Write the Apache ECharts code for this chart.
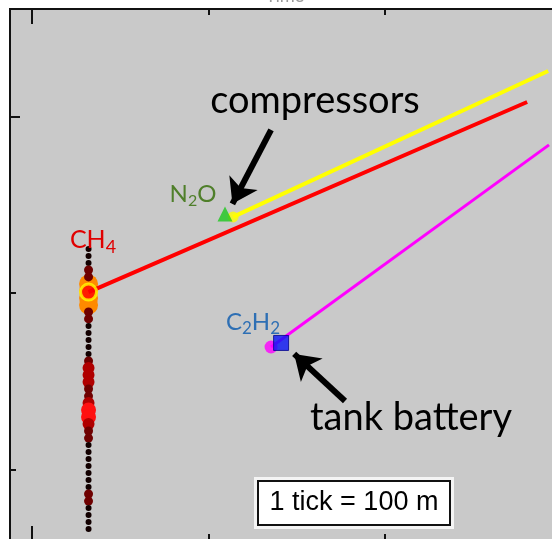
<!DOCTYPE html>
<html>
<head>
<meta charset="utf-8">
<script src="https://cdn.jsdelivr.net/npm/echarts@6/dist/echarts.min.js"></script>
<style>html,body{margin:0;padding:0;background:#fff;}#c{width:552px;height:539px;}</style>
</head>
<body>
<div id="c"></div>
<script>
// ---- data (metres) ----
const ch4X = 32;
const ch4Y = [24.9, 21.0, 17.0, 13.0, 9.1, 5.1, 1.1, -2.8, -6.8, -10.8, -14.7, -18.7, -22.7, -26.6, -30.6, -34.6, -38.5, -42.5, -46.5, -50.4, -54.4, -58.4, -62.3, -66.3, -70.3, -74.2, -78.2, -82.2, -86.1, -90.1, -94.1, -98.0, -102.0, -106.0, -109.9, -113.9, -117.9, -121.8, -125.8, -129.8, -133.7];
const ch4Level = [0,0,0,1,1,4,4,4,4,1,1,0,0,0,0,0,1,2,2,2,1,1,2,3,3,2,1,1,0,0,0,0,0,0,0,1,1,0,0,0,0];
const ch4Source = [32, 0.5];
const ch4Plume = [[32, 0.5], [280.5, 108.2]];
const n2oSource = [109.3, 44.8];
const n2oPlume = [[113.9, 43.1], [292.4, 125.8]];
const c2h2Source = [141.1, -28.3];
const c2h2Plume = [[135.4, -30.6], [292.9, 83.9]];
const arrowCompressors = [[135.4, 92.4], [113.5, 50.5]];
const arrowTank = [[177.3, -61.2], [148.5, -34.5]];
const xTicks = [100, 200, 300];
const xMajorTicks = [0];
const yTicks = [0, -100];
const yMajorTicks = [100];

// ---- styles ----
const levelColor = ['#120000', '#6e0000', '#b00000', '#ff1010', '#ff8a00'];
const levelSize = [6, 9, 12, 15, 19];

const ch4Big = [], ch4Small = [];
ch4Y.forEach((y, i) => {
  const lv = ch4Level[i];
  const item = {value: [ch4X, y], symbolSize: levelSize[lv], itemStyle: {color: levelColor[lv]}};
  (lv === 4 ? ch4Big : ch4Small).push(item);
});

const XMIN = -12.5, XMAX = 322, YMIN = -140.5, YMAX = 160.9, PX = 1.765;
const hidden = {show: false};
function xAx(pos, ticks, len) {
  return {type: 'value', position: pos, min: XMIN, max: XMAX, axisLine: {show: false, onZero: false},
    axisTick: {show: true, inside: true, length: len, customValues: ticks, lineStyle: {color: '#111', width: 2}},
    axisLabel: hidden, splitLine: hidden};
}
function yAx(ticks, len) {
  return {type: 'value', position: 'left', min: YMIN, max: YMAX, axisLine: {show: false, onZero: false},
    axisTick: {show: true, inside: true, length: len, customValues: ticks, lineStyle: {color: '#111', width: 2}},
    axisLabel: hidden, splitLine: hidden};
}

const chart = echarts.init(document.getElementById('c'), null, {renderer: 'canvas'});
chart.setOption({
  animation: false,
  backgroundColor: '#fff',
  grid: {left: 10, top: 9, width: (XMAX - XMIN) * PX, height: (YMAX - YMIN) * PX, show: true,
    outerBoundsMode: 'none', containLabel: false,
    backgroundColor: '#c9c9c9', borderColor: '#111', borderWidth: 2},
  xAxis: [xAx('bottom', xTicks, 7), xAx('top', xTicks, 6), xAx('bottom', xMajorTicks, 15), xAx('top', xMajorTicks, 15)],
  yAxis: [yAx(yTicks, 6), yAx(yMajorTicks, 10)],
  series: [
    {type: 'scatter', data: ch4Big, symbol: 'circle', itemStyle: {opacity: 1}, z: 2},
    {type: 'scatter', data: ch4Small, symbol: 'circle', itemStyle: {opacity: 1}, z: 3},
    {type: 'line', data: ch4Plume, symbol: 'none', lineStyle: {color: '#ff0000', width: 4}, z: 4},
    {type: 'line', data: n2oPlume, symbol: 'none', lineStyle: {color: '#ffff00', width: 4}, z: 4},
    {type: 'line', data: c2h2Plume, symbol: 'none', lineStyle: {color: '#ff00ff', width: 3}, z: 4},
    {type: 'scatter', data: [ch4Source], symbol: 'circle', symbolSize: 16,
      itemStyle: {color: '#ff0000', borderColor: '#ffff00', borderWidth: 3}, z: 5},
    {type: 'scatter', data: [n2oPlume[0]], symbol: 'circle', symbolSize: 11, itemStyle: {color: '#ffff00'}, z: 5},
    {type: 'scatter', data: [c2h2Plume[0]], symbol: 'circle', symbolSize: 13, itemStyle: {color: '#ff00ff'}, z: 5},
    {type: 'scatter', data: [n2oSource], symbol: 'triangle', symbolSize: [15, 15], itemStyle: {color: '#1ec81e'}, z: 6},
    {type: 'scatter', data: [c2h2Source], symbol: 'rect', symbolSize: 15,
      itemStyle: {color: '#0a14f5', borderColor: '#00008a', borderWidth: 1}, z: 6},
    {type: 'lines', coordinateSystem: 'cartesian2d', symbol: ['none', 'arrow'], symbolSize: 24,
      lineStyle: {color: '#000', width: 6, opacity: 1}, z: 7,
      data: [{coords: arrowCompressors}, {coords: arrowTank}]}
  ],
  graphic: [
    {type: 'text', x: 285, y: 6, style: {text: 'Time', fontFamily: 'Liberation Sans', fontSize: 18, fill: '#9a9a9a', align: 'center', verticalAlign: 'bottom'}},
    {type: 'text', x: 315, y: 101, z: 100, style: {text: 'compressors', fontFamily: 'Lato', fontSize: 38, fill: '#000', align: 'center', verticalAlign: 'middle'}},
    {type: 'text', x: 411, y: 418, z: 100, style: {text: 'tank battery', fontFamily: 'Lato', fontSize: 38, fill: '#000', align: 'center', verticalAlign: 'middle'}},
    {type: 'text', x: 193, y: 194, z: 100, style: {text: '{a|N}{b|2}{a|O}', align: 'center', verticalAlign: 'middle',
      rich: {a: {fontFamily: 'Lato', fontSize: 24, lineHeight: 30, fill: '#4f7f2a'}, b: {fontFamily: 'Lato', fontSize: 16, lineHeight: 16, verticalAlign: 'bottom', fill: '#4f7f2a'}}}},
    {type: 'text', x: 93, y: 240, z: 100, style: {text: '{a|CH}{b|4}', align: 'center', verticalAlign: 'middle',
      rich: {a: {fontFamily: 'Lato', fontSize: 25, lineHeight: 32, fill: '#e00000'}, b: {fontFamily: 'Lato', fontSize: 18, lineHeight: 18, verticalAlign: 'bottom', fill: '#e00000'}}}},
    {type: 'text', x: 253, y: 322, z: 100, style: {text: '{a|C}{b|2}{a|H}{b|2}', align: 'center', verticalAlign: 'middle',
      rich: {a: {fontFamily: 'Lato', fontSize: 24, lineHeight: 30, fill: '#2e6fb4'}, b: {fontFamily: 'Lato', fontSize: 17, lineHeight: 17, verticalAlign: 'bottom', fill: '#2e6fb4'}}}},
    {type: 'rect', z: 100, shape: {x: 254, y: 477, width: 200, height: 52}, style: {fill: '#f4f4f4'}},
    {type: 'rect', z: 101, shape: {x: 258, y: 481, width: 192, height: 44}, style: {fill: '#fff', stroke: '#111', lineWidth: 2}},
    {type: 'text', x: 354, y: 503, z: 102, style: {text: '1 tick = 100 m', fontFamily: 'Liberation Sans', fontSize: 27, fill: '#000', align: 'center', verticalAlign: 'middle'}}
  ]
});
</script>
</body>
</html>
